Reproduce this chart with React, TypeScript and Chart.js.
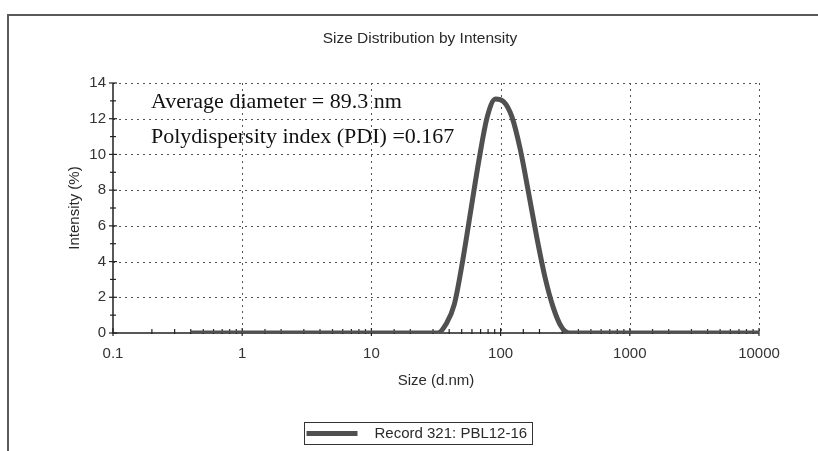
import React, { useEffect, useRef } from 'react';
import { Chart, registerables } from 'chart.js';

Chart.register(...registerables);

// ---- data ----
const sizes = [
  0.4, 0.4632, 0.5365, 0.6213, 0.7195, 0.8332, 0.9649, 1.117, 1.294, 1.499,
  1.736, 2.01, 2.328, 2.696, 3.122, 3.615, 4.187, 4.849, 5.615, 6.503,
  7.531, 8.721, 10.1, 11.7, 13.54, 15.69, 18.17, 21.04, 24.36, 28.21,
  32.67, 37.84, 43.82, 50.75, 58.77, 68.06, 78.82, 91.28, 105.7, 122.4,
  141.8, 164.2, 190.1, 220.2, 255.0, 295.3, 342.0, 396.1, 458.7, 531.2,
  615.1, 712.4, 825.0, 955.4, 1106, 1281, 1484, 1718, 1990, 2305,
  2669, 3091, 3580, 4145, 4801, 5560, 6439, 7456, 8635, 10000,
];
const intensity = [
  0, 0, 0, 0, 0, 0, 0, 0, 0, 0,
  0, 0, 0, 0, 0, 0, 0, 0, 0, 0,
  0, 0, 0, 0, 0, 0, 0, 0, 0, 0,
  0, 0.5, 1.6, 4.0, 6.85, 9.7, 12.1, 13.1, 12.95, 12.1,
  10.3, 7.9, 5.4, 3.15, 1.45, 0.35, 0, 0, 0, 0,
  0, 0, 0, 0, 0, 0, 0, 0, 0, 0,
  0, 0, 0, 0, 0, 0, 0, 0, 0, 0,
];
const xTickValues = [0.1, 1, 10, 100, 1000, 10000];
const xTickLabels = ['0.1', '1', '10', '100', '1000', '10000'];
const yTickValues = [0, 2, 4, 6, 8, 10, 12, 14];
const yTickLabels = ['0', '2', '4', '6', '8', '10', '12', '14'];

const chartTitle = 'Size Distribution by Intensity';
const xAxisTitle = 'Size (d.nm)';
const yAxisTitle = 'Intensity (%)';
const seriesName = 'Record 321: PBL12-16';
const annotationLines = ['Average diameter = 89.3 nm', 'Polydispersity index (PDI) =0.167'];

// ---- styles ----
const SANS = "'Liberation Sans', Arial, sans-serif";
const SERIF = "'Liberation Serif', 'Times New Roman', serif";
const LINE_COLOR = '#505050';
const GRID_COLOR = '#555555';
const AXIS_COLOR = '#222222';
const TEXT_COLOR = '#2a2a2a';

const sameLog = (a: number, b: number) => Math.abs(Math.log10(a) - Math.log10(b)) < 1e-6;

const decorPlugin = {
  id: 'decor',
  beforeDatasetsDraw(chart: any) {
    const { ctx, chartArea } = chart;
    const xs = chart.scales.x;
    const ys = chart.scales.y;
    const { left, right, top, bottom } = chartArea;
    ctx.save();
    // dotted grid
    ctx.strokeStyle = GRID_COLOR;
    ctx.lineWidth = 1;
    ctx.setLineDash([2, 4]);
    xTickValues.forEach((v, i) => {
      if (i === 0) return;
      const px = Math.round(xs.getPixelForValue(v)) + 0.5;
      ctx.beginPath();
      ctx.moveTo(px, top);
      ctx.lineTo(px, bottom);
      ctx.stroke();
    });
    yTickValues.forEach((v, i) => {
      if (i === 0) return;
      const py = Math.round(ys.getPixelForValue(v)) + 0.5;
      ctx.beginPath();
      ctx.moveTo(left, py);
      ctx.lineTo(right, py);
      ctx.stroke();
    });
    ctx.setLineDash([]);
    // axis lines
    ctx.strokeStyle = AXIS_COLOR;
    ctx.lineWidth = 1.5;
    ctx.beginPath();
    ctx.moveTo(left, top);
    ctx.lineTo(left, bottom);
    ctx.lineTo(right, bottom);
    ctx.stroke();
    // tick marks
    ctx.lineWidth = 1.2;
    xs.ticks.forEach((t: any) => {
      const px = xs.getPixelForValue(t.value);
      const major = xTickValues.some((m) => sameLog(m, t.value));
      ctx.beginPath();
      ctx.moveTo(px, bottom - (major ? 5 : 4));
      ctx.lineTo(px, bottom + (major ? 3 : 1));
      ctx.stroke();
    });
    ys.ticks.forEach((t: any) => {
      const py = ys.getPixelForValue(t.value);
      const major = yTickValues.includes(t.value);
      const w = major ? 4 : 3;
      ctx.beginPath();
      ctx.moveTo(left - w, py);
      ctx.lineTo(left + w, py);
      ctx.stroke();
    });
    ctx.restore();
  },
  afterDraw(chart: any) {
    const { ctx, chartArea } = chart;
    const { left, right, top, bottom } = chartArea;
    const cx = (left + right) / 2;
    ctx.save();
    // frame
    ctx.strokeStyle = '#5a5a5a';
    ctx.lineWidth = 2;
    ctx.beginPath();
    ctx.moveTo(818, 15);
    ctx.lineTo(8, 15);
    ctx.lineTo(8, 451);
    ctx.stroke();
    // title
    ctx.fillStyle = TEXT_COLOR;
    ctx.font = `15.5px ${SANS}`;
    ctx.textAlign = 'center';
    ctx.textBaseline = 'middle';
    ctx.fillText(chartTitle, chart.width / 2 + 11, 39);
    // x title
    ctx.font = `15px ${SANS}`;
    ctx.fillText(xAxisTitle, cx, bottom + 48);
    // y title
    ctx.save();
    ctx.translate(left - 38, (top + bottom) / 2);
    ctx.rotate(-Math.PI / 2);
    ctx.fillText(yAxisTitle, 0, 0);
    ctx.restore();
    // annotations
    ctx.fillStyle = '#111111';
    ctx.font = `22px ${SERIF}`;
    ctx.textAlign = 'left';
    ctx.textBaseline = 'alphabetic';
    ctx.fillText(annotationLines[0], left + 38, top + 25);
    ctx.fillText(annotationLines[1], left + 38, top + 60);
    // legend
    const lx = 304.5, ly = 422.5, lw = 228, lh = 22;
    ctx.strokeStyle = '#333333';
    ctx.lineWidth = 1;
    ctx.strokeRect(lx, ly, lw, lh);
    ctx.strokeStyle = LINE_COLOR;
    ctx.lineWidth = 5;
    ctx.beginPath();
    ctx.moveTo(lx + 2, ly + lh / 2);
    ctx.lineTo(lx + 53, ly + lh / 2);
    ctx.stroke();
    ctx.fillStyle = TEXT_COLOR;
    ctx.font = `15px ${SANS}`;
    ctx.textBaseline = 'middle';
    ctx.fillText(seriesName, lx + 70, ly + lh / 2 + 0.5);
    ctx.restore();
  },
};

export default function App() {
  const canvasRef = useRef<HTMLCanvasElement | null>(null);

  useEffect(() => {
    const canvas = canvasRef.current;
    if (!canvas) return;
    const points = sizes.map((s, i) => ({ x: s, y: intensity[i] }));
    const chart = new Chart(canvas, {
      type: 'line',
      data: {
        datasets: [
          {
            label: seriesName,
            data: points,
            borderColor: LINE_COLOR,
            backgroundColor: LINE_COLOR,
            borderWidth: 5,
            pointRadius: 0,
            fill: false,
            cubicInterpolationMode: 'monotone',
            borderJoinStyle: 'round',
            borderCapStyle: 'butt',
          },
        ],
      },
      options: {
        animation: false,
        responsive: false,
        devicePixelRatio: 1,
        parsing: false,
        layout: { padding: { top: 83, right: 59, left: 0, bottom: 0 } },
        plugins: {
          legend: { display: false },
          title: { display: false },
          tooltip: { enabled: false },
        },
        scales: {
          x: {
            type: 'logarithmic',
            min: 0.1,
            max: 10000,
            grid: { display: false, drawTicks: false, tickLength: 0 },
            border: { display: false },
            ticks: {
              autoSkip: false,
              maxRotation: 0,
              minRotation: 0,
              padding: 12,
              color: '#333333',
              font: { family: SANS, size: 15 },
              callback: (value: any) => {
                const v = Number(value);
                const idx = xTickValues.findIndex((m) => sameLog(m, v));
                return idx >= 0 ? xTickLabels[idx] : '';
              },
            },
            afterFit: (scale: any) => {
              scale.height = 118;
            },
          },
          y: {
            type: 'linear',
            min: 0,
            max: 14,
            grid: { display: false, drawTicks: false, tickLength: 0 },
            border: { display: false },
            ticks: {
              stepSize: 1,
              autoSkip: false,
              padding: 7,
              color: '#333333',
              font: { family: SANS, size: 15 },
              callback: (value: any) => {
                const idx = yTickValues.indexOf(Number(value));
                return idx >= 0 ? yTickLabels[idx] : '';
              },
            },
            afterFit: (scale: any) => {
              scale.width = 113;
            },
          },
        },
      },
      plugins: [decorPlugin],
    } as any);
    return () => chart.destroy();
  }, []);

  return (
    <div style={{ position: 'absolute', left: 0, top: 0, width: 818, height: 451, background: '#ffffff' }}>
      <canvas ref={canvasRef} width={818} height={451} style={{ display: 'block', width: 818, height: 451 }} />
    </div>
  );
}
